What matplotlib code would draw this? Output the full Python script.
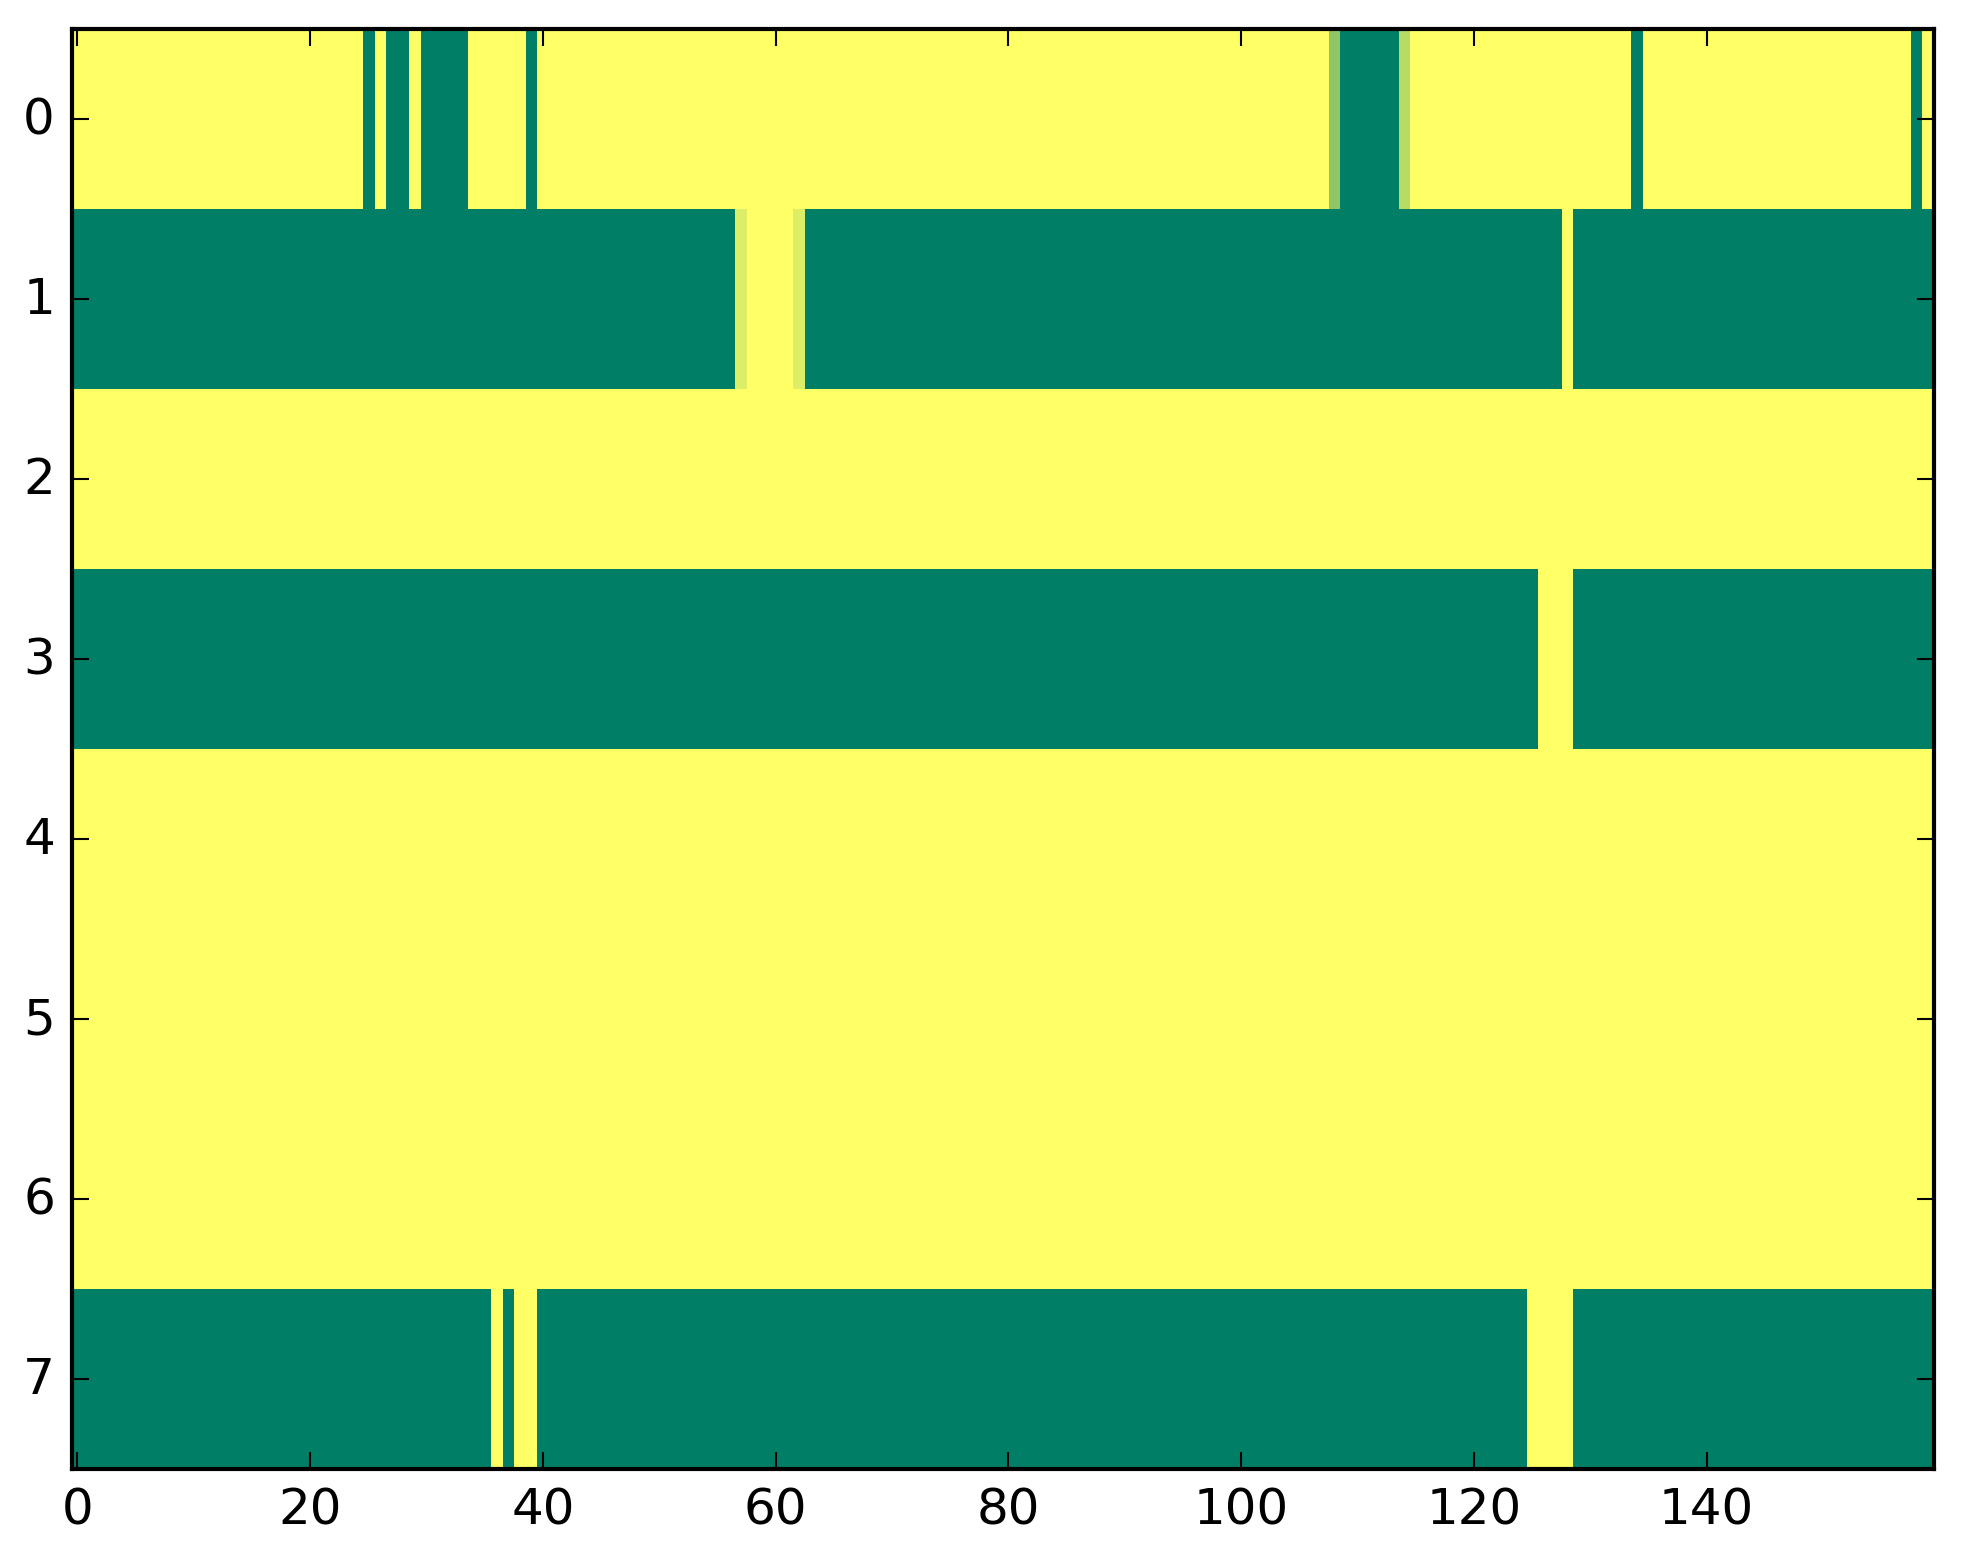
import numpy as np
import matplotlib
matplotlib.use('Agg')
import matplotlib.pyplot as plt

plt.style.use('classic')

n_rows = 8
n_cols = 160

# green (0) stretches per row: (start col, end col inclusive)
green_runs = {
    0: [(25, 25), (27, 28), (30, 33), (39, 39), (109, 113), (134, 134), (158, 158)],
    1: [(0, 56), (63, 127), (129, 159)],
    3: [(0, 125), (129, 159)],
    7: [(0, 35), (37, 37), (40, 124), (129, 159)],
}
# in-between cells (row, col, value)
partial_cells = [(0, 108, 0.56), (0, 114, 0.72), (1, 57, 0.86), (1, 62, 0.86)]

data = np.ones((n_rows, n_cols))
for row, runs in green_runs.items():
    for a, b in runs:
        data[row, a:b + 1] = 0.0
for row, col, val in partial_cells:
    data[row, col] = val

fig = plt.figure(figsize=(1963 / 300, 1564 / 300), dpi=300)
ax = fig.add_axes([0.0365, 0.06, 0.9485, 0.9205])
ax.imshow(data, cmap='summer', aspect='auto', interpolation='nearest', vmin=0, vmax=1)
ax.set_xticks(np.arange(0, 160, 20))
ax.set_yticks(np.arange(0, 8))

fig.savefig('out.png', dpi=300)
